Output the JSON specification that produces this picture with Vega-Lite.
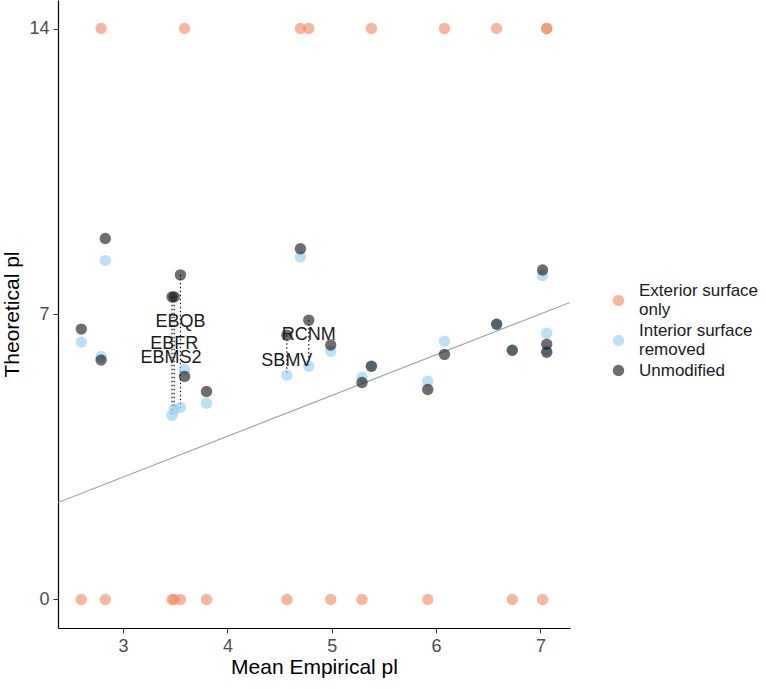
{
  "$schema": "https://vega.github.io/schema/vega-lite/v6.json",
  "autosize": {"type": "none"},
  "padding": {"left": 58, "top": 0, "right": 196, "bottom": 61},
  "width": 512,
  "height": 628,
  "background": "white",
  "config": {
    "view": {"stroke": null},
    "font": "Liberation Sans",
    "axis": {
      "grid": false,
      "domainColor": "#000000",
      "domainWidth": 1.2,
      "tickColor": "#333333",
      "tickSize": 5,
      "labelColor": "#4D4D4D",
      "labelFontSize": 18,
      "labelFont": "Liberation Sans",
      "titleFont": "Liberation Sans",
      "titleFontSize": 21,
      "titleFontWeight": "normal",
      "titleColor": "#000000"
    }
  },
  "datasets": {
    "pts": [
      {"x": 2.60, "group": "Exterior surface only", "y": 0, "ord": 0},
      {"x": 2.60, "group": "Interior surface removed", "y": 6.31, "ord": 1},
      {"x": 2.60, "group": "Unmodified", "y": 6.63, "ord": 2},
      {"x": 2.79, "group": "Exterior surface only", "y": 14, "ord": 0},
      {"x": 2.79, "group": "Interior surface removed", "y": 5.96, "ord": 1},
      {"x": 2.79, "group": "Unmodified", "y": 5.87, "ord": 2},
      {"x": 2.83, "group": "Exterior surface only", "y": 0, "ord": 0},
      {"x": 2.83, "group": "Interior surface removed", "y": 8.31, "ord": 1},
      {"x": 2.83, "group": "Unmodified", "y": 8.85, "ord": 2},
      {"x": 3.47, "group": "Exterior surface only", "y": 0, "ord": 0},
      {"x": 3.47, "group": "Interior surface removed", "y": 4.51, "ord": 1},
      {"x": 3.47, "group": "Unmodified", "y": 7.42, "ord": 2},
      {"x": 3.49, "group": "Exterior surface only", "y": 0, "ord": 0},
      {"x": 3.49, "group": "Interior surface removed", "y": 4.66, "ord": 1},
      {"x": 3.49, "group": "Unmodified", "y": 7.42, "ord": 2},
      {"x": 3.55, "group": "Exterior surface only", "y": 0, "ord": 0},
      {"x": 3.55, "group": "Interior surface removed", "y": 4.71, "ord": 1},
      {"x": 3.55, "group": "Unmodified", "y": 7.96, "ord": 2},
      {"x": 3.59, "group": "Exterior surface only", "y": 14, "ord": 0},
      {"x": 3.59, "group": "Interior surface removed", "y": 5.64, "ord": 1},
      {"x": 3.59, "group": "Unmodified", "y": 5.47, "ord": 2},
      {"x": 3.80, "group": "Exterior surface only", "y": 0, "ord": 0},
      {"x": 3.80, "group": "Interior surface removed", "y": 4.81, "ord": 1},
      {"x": 3.80, "group": "Unmodified", "y": 5.10, "ord": 2},
      {"x": 4.57, "group": "Exterior surface only", "y": 0, "ord": 0},
      {"x": 4.57, "group": "Interior surface removed", "y": 5.50, "ord": 1},
      {"x": 4.57, "group": "Unmodified", "y": 6.48, "ord": 2},
      {"x": 4.70, "group": "Exterior surface only", "y": 14, "ord": 0},
      {"x": 4.70, "group": "Interior surface removed", "y": 8.40, "ord": 1},
      {"x": 4.70, "group": "Unmodified", "y": 8.60, "ord": 2},
      {"x": 4.78, "group": "Exterior surface only", "y": 14, "ord": 0},
      {"x": 4.78, "group": "Interior surface removed", "y": 5.72, "ord": 1},
      {"x": 4.78, "group": "Unmodified", "y": 6.85, "ord": 2},
      {"x": 4.99, "group": "Exterior surface only", "y": 0, "ord": 0},
      {"x": 4.99, "group": "Interior surface removed", "y": 6.09, "ord": 1},
      {"x": 4.99, "group": "Unmodified", "y": 6.24, "ord": 2},
      {"x": 5.29, "group": "Exterior surface only", "y": 0, "ord": 0},
      {"x": 5.29, "group": "Interior surface removed", "y": 5.45, "ord": 1},
      {"x": 5.29, "group": "Unmodified", "y": 5.32, "ord": 2},
      {"x": 5.38, "group": "Exterior surface only", "y": 14, "ord": 0},
      {"x": 5.38, "group": "Interior surface removed", "y": 5.72, "ord": 1},
      {"x": 5.38, "group": "Unmodified", "y": 5.72, "ord": 2},
      {"x": 5.92, "group": "Exterior surface only", "y": 0, "ord": 0},
      {"x": 5.92, "group": "Interior surface removed", "y": 5.35, "ord": 1},
      {"x": 5.92, "group": "Unmodified", "y": 5.15, "ord": 2},
      {"x": 6.08, "group": "Exterior surface only", "y": 14, "ord": 0},
      {"x": 6.08, "group": "Interior surface removed", "y": 6.33, "ord": 1},
      {"x": 6.08, "group": "Unmodified", "y": 6.01, "ord": 2},
      {"x": 6.58, "group": "Exterior surface only", "y": 14, "ord": 0},
      {"x": 6.58, "group": "Interior surface removed", "y": 6.75, "ord": 1},
      {"x": 6.58, "group": "Unmodified", "y": 6.75, "ord": 2},
      {"x": 6.73, "group": "Exterior surface only", "y": 0, "ord": 0},
      {"x": 6.73, "group": "Interior surface removed", "y": 6.11, "ord": 1},
      {"x": 6.73, "group": "Unmodified", "y": 6.11, "ord": 2},
      {"x": 7.02, "group": "Exterior surface only", "y": 0, "ord": 0},
      {"x": 7.02, "group": "Interior surface removed", "y": 7.94, "ord": 1},
      {"x": 7.02, "group": "Unmodified", "y": 8.08, "ord": 2},
      {"x": 7.06, "group": "Exterior surface only", "y": 14, "ord": 0},
      {"x": 7.06, "group": "Interior surface removed", "y": 6.53, "ord": 1},
      {"x": 7.06, "group": "Unmodified", "y": 6.26, "ord": 2},
      {"x": 7.06, "group": "Exterior surface only", "y": 14, "ord": 0},
      {"x": 7.06, "group": "Interior surface removed", "y": 6.10, "ord": 1},
      {"x": 7.06, "group": "Unmodified", "y": 6.06, "ord": 2}
    ],
    "segs": [
      {"sample": "EBMS2", "x": 3.47, "top": 7.42, "bottom": 4.51},
      {"sample": "EBFR", "x": 3.49, "top": 7.42, "bottom": 4.66},
      {"sample": "EBQB", "x": 3.55, "top": 7.96, "bottom": 4.71},
      {"sample": "SBMV", "x": 4.57, "top": 6.48, "bottom": 5.50},
      {"sample": "RCNM", "x": 4.78, "top": 6.85, "bottom": 5.72}
    ],
    "labs": [
      {"sample": "EBQB", "x": 3.55, "y": 6.80},
      {"sample": "EBFR", "x": 3.49, "y": 6.26},
      {"sample": "EBMS2", "x": 3.46, "y": 5.92},
      {"sample": "RCNM", "x": 4.78, "y": 6.48},
      {"sample": "SBMV", "x": 4.57, "y": 5.84}
    ],
    "ident": [
      {"x": 2.377, "y": 2.377},
      {"x": 7.283, "y": 7.283}
    ]
  },
  "layer": [
    {
      "data": {"name": "ident"},
      "mark": {"type": "line", "color": "#A0A0A0", "strokeWidth": 1.2, "clip": true},
      "encoding": {
        "x": {"field": "x", "type": "quantitative"},
        "y": {"field": "y", "type": "quantitative"}
      }
    },
    {
      "data": {"name": "segs"},
      "mark": {"type": "rule", "color": "#000000", "strokeWidth": 1.1, "strokeDash": [1.5, 2.5]},
      "encoding": {
        "x": {"field": "x", "type": "quantitative"},
        "y": {"field": "top", "type": "quantitative"},
        "y2": {"field": "bottom"}
      }
    },
    {
      "data": {"name": "pts"},
      "mark": {"type": "circle", "size": 130, "opacity": 0.62, "strokeWidth": 0},
      "encoding": {
        "x": {
          "field": "x", "type": "quantitative",
          "scale": {"domain": [2.377, 7.283], "nice": false, "zero": false},
          "axis": {"values": [3, 4, 5, 6, 7], "format": "d", "title": "Mean Empirical pl", "titlePadding": 1, "labelPadding": 4}
        },
        "y": {
          "field": "y", "type": "quantitative",
          "scale": {"domain": [-0.7, 14.7], "nice": false, "zero": false},
          "axis": {"values": [0, 7, 14], "format": "d", "title": "Theoretical pl", "titlePadding": 6, "labelPadding": 4}
        },
        "color": {
          "field": "group", "type": "nominal",
          "scale": {
            "domain": ["Exterior surface only", "Interior surface removed", "Unmodified"],
            "range": ["#F08A62", "#92CFF2", "#151515"]
          },
          "legend": {
            "title": null,
            "orient": "none",
            "legendX": 552,
            "legendY": 292,
            "symbolType": "circle",
            "symbolSize": 130,
            "symbolOpacity": 0.62,
            "symbolStrokeWidth": 0,
            "labelFontSize": 17,
            "labelColor": "#1A1A1A",
            "labelFont": "Liberation Sans",
            "labelLimit": 300,
            "labelOffset": 12,
            "labelBaseline": {"expr": "datum.value == 'Unmodified' ? 'middle' : 'line-bottom'"},
            "rowPadding": 3,
            "labelExpr": "datum.label == 'Exterior surface only' ? ['Exterior surface', '\u2005only'] : datum.label == 'Interior surface removed' ? ['Interior surface', '\u2005removed'] : datum.label"
          }
        },
        "order": {"field": "ord", "type": "quantitative"}
      }
    },
    {
      "data": {"name": "labs"},
      "mark": {"type": "text", "fontSize": 18, "color": "#1A1A1A", "font": "Liberation Sans", "baseline": "middle", "align": "center"},
      "encoding": {
        "x": {"field": "x", "type": "quantitative"},
        "y": {"field": "y", "type": "quantitative"},
        "text": {"field": "sample"}
      }
    }
  ]
}
